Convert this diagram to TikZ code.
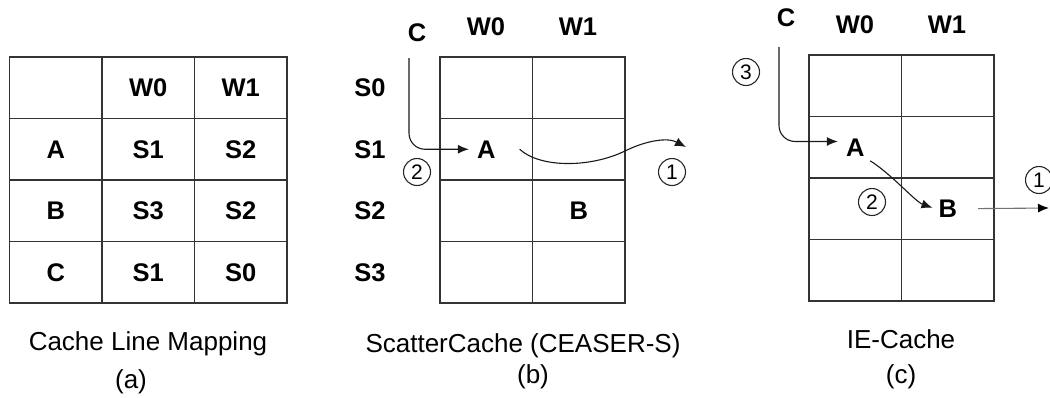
\documentclass[tikz,border=0pt]{standalone}
\usepackage{fontspec}
\setmainfont{Liberation Sans}
\usetikzlibrary{arrows.meta}

\begin{document}
\begin{tikzpicture}[
        x=1pt, y=-1pt,
        font=\fontsize{25}{28}\selectfont,
        cell/.style={
            draw=black!80,
            line width=1.3pt,
            minimum width=92.5pt,
            minimum height=61.5pt,
            inner sep=0pt,
            outer sep=0pt,
            font=\fontsize{25.5}{28}\selectfont\bfseries
        },
        lbl/.style={inner sep=3pt, font=\fontsize{25.5}{28}\selectfont\bfseries},
        circ/.style={
            circle,
            draw=black!85,
            line width=1.1pt,
            minimum size=27pt,
            inner sep=0pt,
            font=\fontsize{21}{21}\selectfont
        },
        caption/.style={anchor=base, font=\fontsize{26}{28}\selectfont},
        arrow/.style={-{Latex[length=11pt,width=9pt]}, line width=1.1pt, draw=black!90}
    ]
        \useasboundingbox (0,0) rectangle (1050,397);

        % (a) cache line mapping table
        \foreach \r/\ta/\tb/\tc in {0//W0/W1, 1/A/S1/S2, 2/B/S3/S2, 3/C/S1/S0} {
            \node[cell] (ma-\r-0) at (55.75, {87.75+61.5*\r}) {\ta};
            \node[cell] (ma-\r-1) at (148.25, {87.75+61.5*\r}) {\tb};
            \node[cell] (ma-\r-2) at (240.75, {87.75+61.5*\r}) {\tc};
        }
        \node[caption] (cap-a) at (148,350) {Cache Line Mapping};
        \node[caption] (sub-a) at (131,388) {(a)};

        % (b) ScatterCache
        \foreach \r in {0,...,3} {
            \foreach \c in {0,1} {
                \node[cell] (gb-\r-\c) at ({486.25+92.5*\c}, {87.75+61.5*\r}) {};
            }
            \node[lbl] (sb-\r) at (370, {87.75+61.5*\r}) {S\r};
        }
        \node[lbl] (wb-0) at (486,27) {W0};
        \node[lbl] (wb-1) at (578,27) {W1};
        \node[lbl] (cb) at (417,33) {C};
        \node[lbl] (ab) at (gb-1-0) {A};
        \node[lbl] (bb) at (gb-2-1) {B};
        \coordinate (cb-in) at (409,58);
        \coordinate (evb) at (686,147);
        \node[circ] (nb-2) at (417,172) {2};
        \node[circ] (nb-1) at (672,172) {1};

        \draw[arrow, rounded corners=16pt, shorten >=5pt] (cb-in) |- (ab.west);
        \draw[arrow] ([xshift=21pt]ab.east) .. controls (540,168) and (590,168) .. (625,151)
            .. controls (645,141) and (667,137) .. (evb);

        \node[caption] (cap-b) at (523,352) {ScatterCache (CEASER-S)};
        \node[caption] (sub-b) at (533,383) {(b)};

        % (c) IE-Cache
        \foreach \r in {0,...,3} {
            \foreach \c in {0,1} {
                \node[cell] (gc-\r-\c) at ({855.25+92.5*\c}, {85.75+61.5*\r}) {};
            }
        }
        \node[lbl] (wc-0) at (855,25) {W0};
        \node[lbl] (wc-1) at (947,25) {W1};
        \node[lbl] (cc) at (786,18) {C};
        \node[lbl] (ac) at (gc-1-0) {A};
        \node[lbl] (bc) at (gc-2-1) {B};
        \coordinate (cc-in) at (779,47);
        \coordinate (evc) at (1049,208);
        \node[circ] (nc-3) at (746,72) {3};
        \node[circ] (nc-2) at (872,202) {2};
        \node[circ] (nc-1) at (1039,180) {1};

        \draw[arrow, rounded corners=16pt, shorten >=5pt] (cc-in) |- (ac.155);
        \draw[arrow, shorten <=3pt, shorten >=3pt] (ac.south east) .. controls +(24,15) and +(-20,-7) .. (bc.west);
        \draw[arrow, draw=black!55, -{Latex[length=11pt,width=9pt,color=black]}, shorten <=18pt] (bc.east) -- (evc);

        \node[caption] (cap-c) at (901,348) {IE-Cache};
        \node[caption] (sub-c) at (901,383) {(c)};
    \end{tikzpicture}
\end{document}
